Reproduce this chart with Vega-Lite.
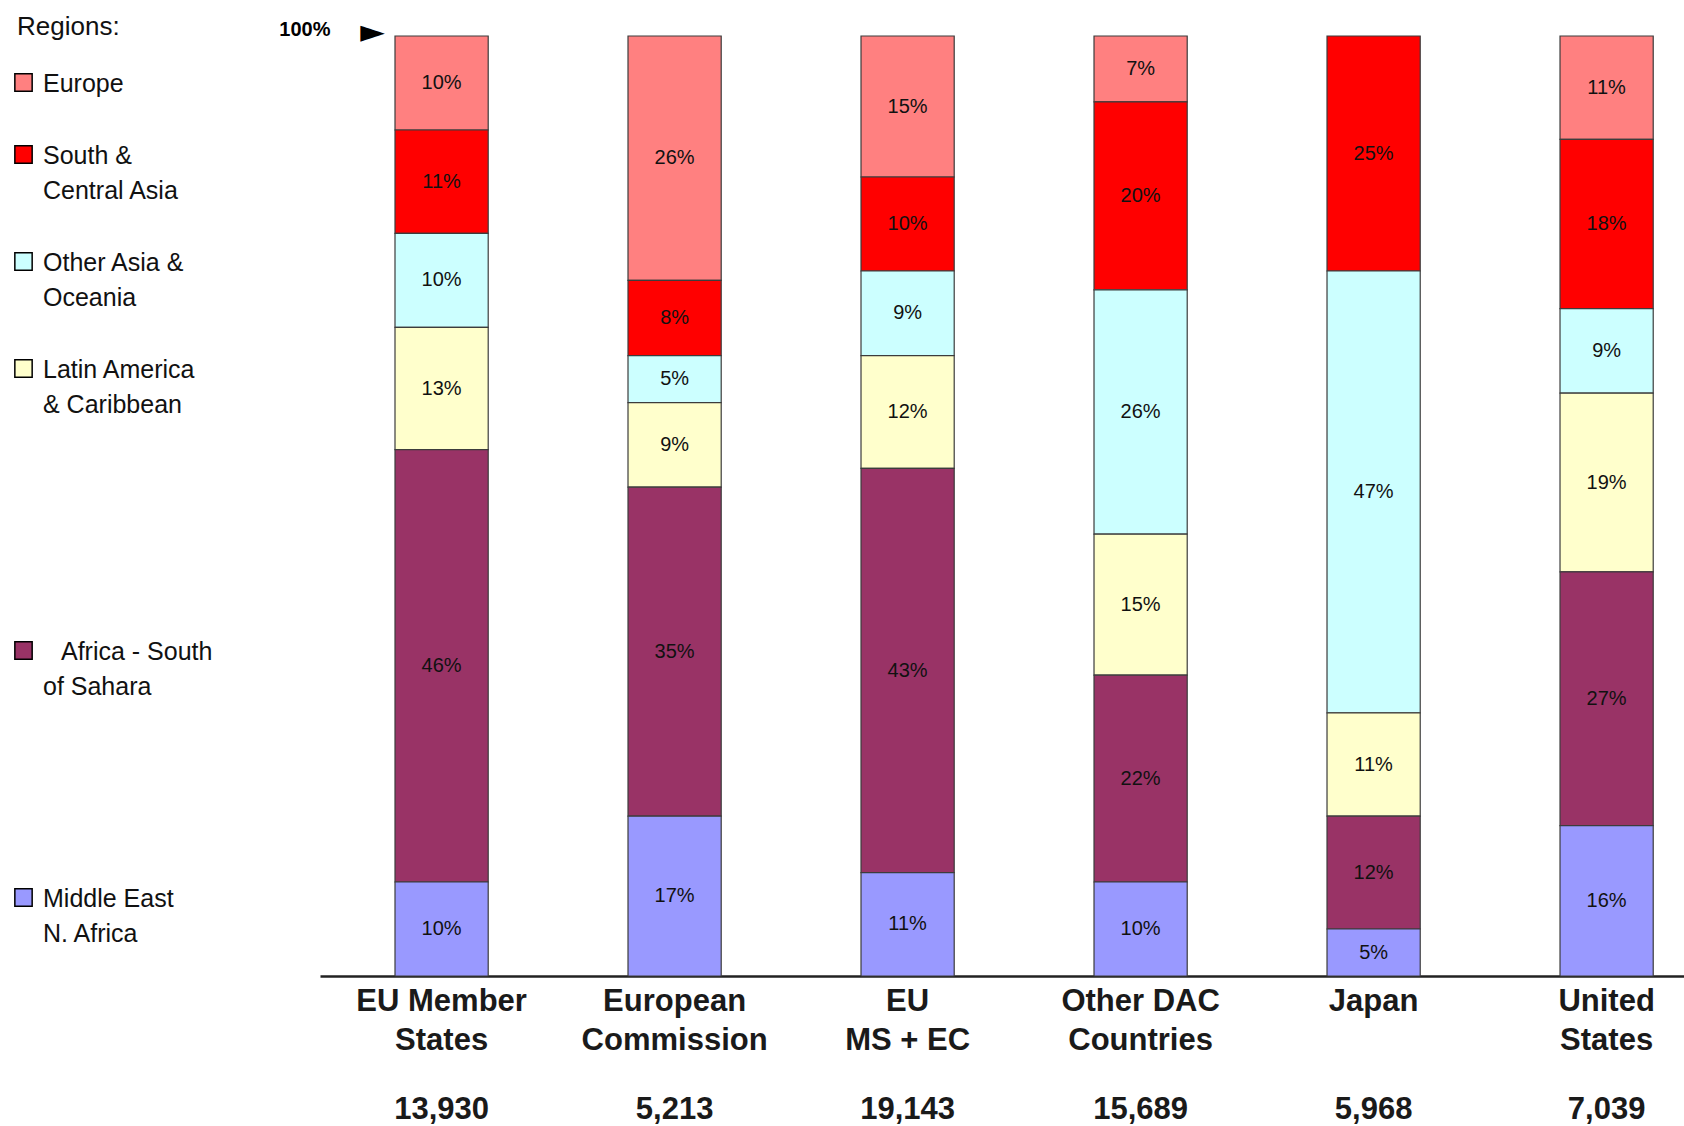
{
  "$schema": "https://vega.github.io/schema/vega-lite/v6.json",
  "width": 1364,
  "height": 940,
  "autosize": {"type": "none"},
  "padding": {"left": 320, "top": 36, "right": 0, "bottom": 150},
  "background": "white",
  "config": {
    "view": {"stroke": null},
    "font": "Liberation Sans",
    "text": {"font": "Liberation Sans"}
  },
  "datasets": {
    "shares": [
      {"donor": "EU Member States", "region": "Europe", "share": 0.10},
      {"donor": "EU Member States", "region": "South & Central Asia", "share": 0.11},
      {"donor": "EU Member States", "region": "Other Asia & Oceania", "share": 0.10},
      {"donor": "EU Member States", "region": "Latin America & Caribbean", "share": 0.13},
      {"donor": "EU Member States", "region": "Africa - South of Sahara", "share": 0.46},
      {"donor": "EU Member States", "region": "Middle East N. Africa", "share": 0.10},
      {"donor": "European Commission", "region": "Europe", "share": 0.26},
      {"donor": "European Commission", "region": "South & Central Asia", "share": 0.08},
      {"donor": "European Commission", "region": "Other Asia & Oceania", "share": 0.05},
      {"donor": "European Commission", "region": "Latin America & Caribbean", "share": 0.09},
      {"donor": "European Commission", "region": "Africa - South of Sahara", "share": 0.35},
      {"donor": "European Commission", "region": "Middle East N. Africa", "share": 0.17},
      {"donor": "EU MS + EC", "region": "Europe", "share": 0.15},
      {"donor": "EU MS + EC", "region": "South & Central Asia", "share": 0.10},
      {"donor": "EU MS + EC", "region": "Other Asia & Oceania", "share": 0.09},
      {"donor": "EU MS + EC", "region": "Latin America & Caribbean", "share": 0.12},
      {"donor": "EU MS + EC", "region": "Africa - South of Sahara", "share": 0.43},
      {"donor": "EU MS + EC", "region": "Middle East N. Africa", "share": 0.11},
      {"donor": "Other DAC Countries", "region": "Europe", "share": 0.07},
      {"donor": "Other DAC Countries", "region": "South & Central Asia", "share": 0.20},
      {"donor": "Other DAC Countries", "region": "Other Asia & Oceania", "share": 0.26},
      {"donor": "Other DAC Countries", "region": "Latin America & Caribbean", "share": 0.15},
      {"donor": "Other DAC Countries", "region": "Africa - South of Sahara", "share": 0.22},
      {"donor": "Other DAC Countries", "region": "Middle East N. Africa", "share": 0.10},
      {"donor": "Japan", "region": "South & Central Asia", "share": 0.25},
      {"donor": "Japan", "region": "Other Asia & Oceania", "share": 0.47},
      {"donor": "Japan", "region": "Latin America & Caribbean", "share": 0.11},
      {"donor": "Japan", "region": "Africa - South of Sahara", "share": 0.12},
      {"donor": "Japan", "region": "Middle East N. Africa", "share": 0.05},
      {"donor": "United States", "region": "Europe", "share": 0.11},
      {"donor": "United States", "region": "South & Central Asia", "share": 0.18},
      {"donor": "United States", "region": "Other Asia & Oceania", "share": 0.09},
      {"donor": "United States", "region": "Latin America & Caribbean", "share": 0.19},
      {"donor": "United States", "region": "Africa - South of Sahara", "share": 0.27},
      {"donor": "United States", "region": "Middle East N. Africa", "share": 0.16}
    ],
    "totals": [
      {"donor": "EU Member States", "total": 13930},
      {"donor": "European Commission", "total": 5213},
      {"donor": "EU MS + EC", "total": 19143},
      {"donor": "Other DAC Countries", "total": 15689},
      {"donor": "Japan", "total": 5968},
      {"donor": "United States", "total": 7039}
    ]
  },
  "layer": [
    {
      "data": {"name": "shares"},
      "transform": [
        {"calculate": "indexof(['Europe', 'South & Central Asia', 'Other Asia & Oceania', 'Latin America & Caribbean', 'Africa - South of Sahara', 'Middle East N. Africa'], datum.region)", "as": "legendRank"}
      ],
      "mark": {"type": "bar", "stroke": "#3c3c3c", "strokeWidth": 1.2, "opacity": 1},
      "encoding": {
        "x": {
          "field": "donor",
          "type": "nominal",
          "sort": ["EU Member States", "European Commission", "EU MS + EC", "Other DAC Countries", "Japan", "United States"],
          "scale": {"paddingInner": 0.6, "paddingOuter": 0.227, "align": 0.709},
          "axis": {
            "title": null,
            "labelAngle": 0,
            "labelExpr": "datum.label == 'EU Member States' ? ['EU Member', 'States'] : datum.label == 'European Commission' ? ['European', 'Commission'] : datum.label == 'EU MS + EC' ? ['EU', 'MS + EC'] : datum.label == 'Other DAC Countries' ? ['Other DAC', 'Countries'] : datum.label == 'United States' ? ['United', 'States'] : datum.label",
            "labelFont": "Liberation Sans",
            "labelFontSize": 31,
            "labelFontWeight": "bold",
            "labelColor": "#1a1a1a",
            "labelLineHeight": 39,
            "labelBaseline": "top",
            "labelPadding": 10,
            "labelLimit": 0,
            "labelOverlap": false,
            "ticks": false,
            "tickSize": 0,
            "domainColor": "#222222",
            "domainWidth": 2.5,
            "grid": false
          }
        },
        "y": {
          "field": "share",
          "type": "quantitative",
          "stack": "zero",
          "scale": {"domain": [0, 1], "nice": false},
          "axis": {
            "title": "►",
            "titleFont": "DejaVu Sans",
            "titleFontSize": 32,
            "titleFontWeight": "normal",
            "titleColor": "#000000",
            "titleAngle": 0,
            "titleAlign": "center",
            "titleBaseline": "middle",
            "titleX": 52,
            "titleY": -5,
            "values": [1],
            "labelExpr": "'100%'",
            "labelFont": "Liberation Sans",
            "labelFontSize": 20,
            "labelFontWeight": "bold",
            "labelColor": "#000000",
            "labelFlush": false,
            "labelBaseline": "middle",
            "labelOffset": -7,
            "labelPadding": -10,
            "ticks": false,
            "tickSize": 0,
            "domain": false,
            "grid": false
          }
        },
        "order": {"field": "legendRank", "type": "quantitative", "sort": "descending"},
        "color": {
          "field": "region",
          "type": "nominal",
          "sort": ["Europe", "South & Central Asia", "Other Asia & Oceania", "Latin America & Caribbean", "Africa - South of Sahara", "Middle East N. Africa"],
          "scale": {
            "domain": ["Europe", "South & Central Asia", "Other Asia & Oceania", "Latin America & Caribbean", "Africa - South of Sahara", "Middle East N. Africa"],
            "range": ["#FF8080", "#FF0000", "#CCFFFF", "#FFFFCC", "#993366", "#9999FF"]
          },
          "legend": {
            "title": "Regions:",
            "orient": "none",
            "legendX": -309,
            "legendY": -22,
            "padding": 0,
            "titleFont": "Liberation Sans",
            "titleFontSize": 26,
            "titleFontWeight": "normal",
            "titleColor": "#111111",
            "titlePadding": 30,
            "labelFont": "Liberation Sans",
            "labelFontSize": 25,
            "labelColor": "#111111",
            "labelLimit": 0,
            "labelOffset": 7,
            "labelBaseline": "top",
            "labelExpr": "datum.label == 'South & Central Asia' ? ['South &', 'Central Asia'] : datum.label == 'Other Asia & Oceania' ? ['Other Asia &', 'Oceania'] : datum.label == 'Latin America & Caribbean' ? ['Latin America', '& Caribbean', '', '', '', '', ''] : datum.label == 'Africa - South of Sahara' ? ['\u2800Africa - South', 'of Sahara', '', '', '', ''] : datum.label == 'Middle East N. Africa' ? ['Middle East', 'N. Africa'] : datum.label",
            "symbolType": "square",
            "symbolSize": 300,
            "symbolStrokeColor": "#000000",
            "symbolStrokeWidth": 1.5,
            "symbolOpacity": 1,
            "rowPadding": 45,
            "encode": {
              "title": {"update": {"dx": {"value": 6}}},
              "labels": {"update": {"lineHeight": {"value": 35}, "dy": {"value": -11}}},
              "symbols": {
                "update": {
                  "fill": {"value": {"expr": "datum.value === 'Africa - South of Sahara' ? '#800080' : scale('color', datum.value)"}},
                  "stroke": {"value": "#000000"},
                  "strokeWidth": {"value": 1.5}
                }
              }
            }
          }
        }
      }
    },
    {
      "data": {"name": "shares"},
      "transform": [
        {"calculate": "indexof(['Europe', 'South & Central Asia', 'Other Asia & Oceania', 'Latin America & Caribbean', 'Africa - South of Sahara', 'Middle East N. Africa'], datum.region)", "as": "legendRank"}
      ],
      "mark": {"type": "text", "fontSize": 20, "baseline": "middle", "align": "center", "fill": "#111111"},
      "encoding": {
        "x": {"field": "donor", "type": "nominal", "sort": ["EU Member States", "European Commission", "EU MS + EC", "Other DAC Countries", "Japan", "United States"]},
        "y": {"field": "share", "type": "quantitative", "stack": "zero", "bandPosition": 0.5},
        "detail": {"field": "region", "type": "nominal"},
        "order": {"field": "legendRank", "type": "quantitative", "sort": "descending"},
        "text": {"field": "share", "type": "quantitative", "format": ".0%"}
      }
    },
    {
      "data": {"name": "totals"},
      "mark": {"type": "text", "fontSize": 31, "fontWeight": "bold", "baseline": "middle", "align": "center", "dy": 134, "fill": "#1a1a1a"},
      "encoding": {
        "x": {"field": "donor", "type": "nominal", "sort": ["EU Member States", "European Commission", "EU MS + EC", "Other DAC Countries", "Japan", "United States"]},
        "y": {"datum": 0, "type": "quantitative"},
        "text": {"field": "total", "type": "quantitative", "format": ","}
      }
    }
  ]
}
